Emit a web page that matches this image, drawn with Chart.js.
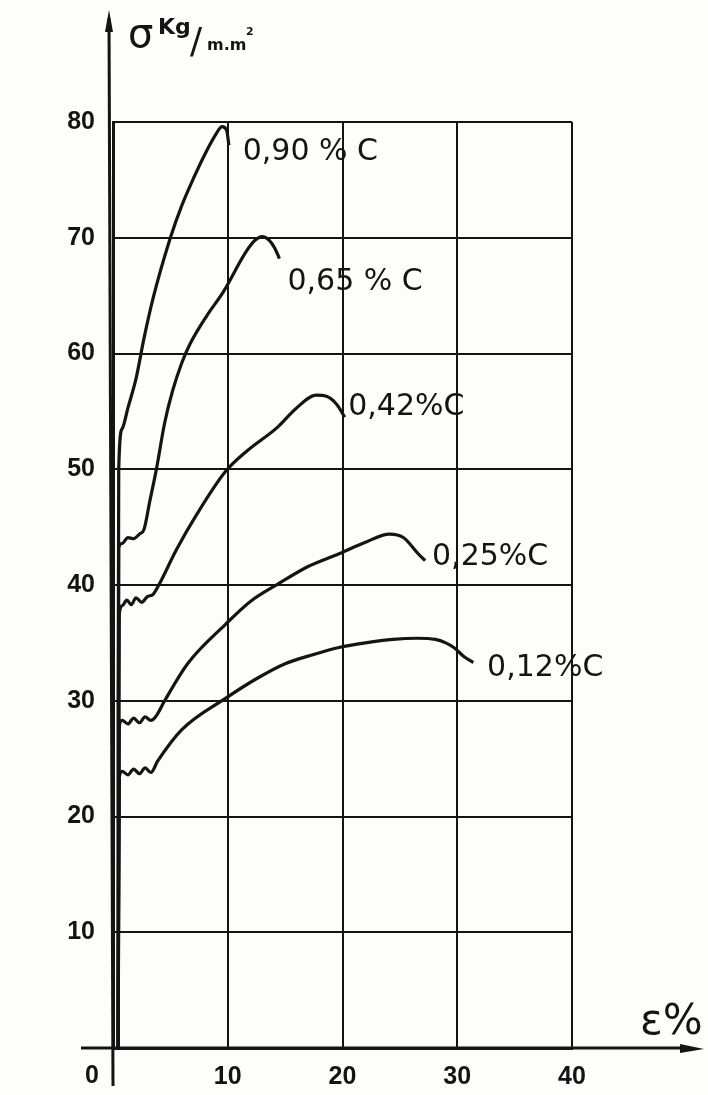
<!DOCTYPE html>
<html>
<head>
<meta charset="utf-8">
<script src="https://cdn.jsdelivr.net/npm/chart.js@4.4.1/dist/chart.umd.min.js"></script>
<style>
  html, body { margin: 0; padding: 0; background: #fff; }
  canvas { display: block; }
</style>
</head>
<body>
<canvas id="chart" width="708" height="1095"></canvas>
<script>
// tick labels
const xTicks = [0, 10, 20, 30, 40];
const yTicks = [10, 20, 30, 40, 50, 60, 70, 80];

// curves: carbon content, strain (%) and stress (kg/mm2)
const curveNames = ['0,90 % C', '0,65 % C', '0,42%C', '0,25%C', '0,12%C'];

const strain090 = [0.45, 0.45, 0.5, 0.8, 1.3, 2.0, 2.7, 3.5, 5.0, 6.0, 7.0, 8.0, 9.0, 9.5, 9.9, 10.1];
const stress090 = [0, 30, 50, 53.5, 55.3, 57.8, 61.3, 64.8, 70, 72.8, 75.1, 77.2, 79, 79.6, 79.3, 78];

const strain065 = [0.45, 0.5, 0.8, 1.3, 1.8, 2.3, 2.7, 3.2, 3.8, 4.5, 5.2, 6.0, 6.7, 8.2, 9.6, 11.6, 12.4, 13.0, 13.6, 14.1, 14.5];
const stress065 = [0, 43.2, 43.6, 44.1, 44.0, 44.4, 44.8, 47.2, 50.1, 54.0, 56.8, 59.2, 60.8, 63.3, 65.3, 68.8, 69.8, 70.1, 69.8, 69.1, 68.2];

const strain042 = [0.45, 0.55, 0.8, 1.2, 1.6, 2.0, 2.5, 3.0, 3.5, 4.1, 5.5, 7.3, 9.8, 11.7, 14.3, 16.0, 17.7, 18.6, 19.5, 20.2];
const stress042 = [0, 37.5, 38.2, 38.7, 38.3, 38.9, 38.5, 39.0, 39.2, 40.2, 43.0, 46.1, 49.8, 51.6, 53.6, 55.3, 56.4, 56.3, 55.6, 54.5];

const strain025 = [0.45, 0.55, 0.8, 1.3, 1.8, 2.3, 2.8, 3.3, 3.7, 4.5, 6.5, 9.8, 12.0, 14.4, 17.0, 19.7, 22.0, 24.1, 25.3, 26.6, 27.2];
const stress025 = [0, 27.8, 28.3, 28.0, 28.5, 28.1, 28.6, 28.3, 28.6, 30.0, 33.2, 36.6, 38.6, 40.1, 41.6, 42.7, 43.7, 44.4, 44.1, 42.7, 42.1];

const strain012 = [0.45, 0.55, 0.8, 1.3, 1.8, 2.3, 2.8, 3.3, 3.9, 6.0, 9.8, 12.5, 15.0, 17.5, 19.7, 22.0, 24.4, 26.5, 28.1, 29.0, 29.7, 30.6, 31.4];
const stress012 = [0, 23.4, 23.9, 23.6, 24.1, 23.7, 24.2, 23.8, 24.8, 27.5, 30.2, 31.9, 33.2, 34.0, 34.6, 35.0, 35.3, 35.4, 35.3, 35.0, 34.6, 33.8, 33.3];

const strains = [strain090, strain065, strain042, strain025, strain012];
const stresses = [stress090, stress065, stress042, stress025, stress012];

function toPoints(xs, ys) {
  return xs.map((x, i) => ({ x: x, y: ys[i] }));
}

const ink = '#141414';

const sketchPlugin = {
  id: 'sketch',
  beforeDraw(chart) {
    const ctx = chart.ctx;
    ctx.save();
    ctx.fillStyle = '#fdfdfc';
    ctx.fillRect(0, 0, chart.width, chart.height);
    ctx.restore();
  },
  afterDraw(chart) {
    const ctx = chart.ctx;
    const xs = chart.scales.x;
    const ys = chart.scales.y;
    const x0 = xs.getPixelForValue(0);
    const y0 = ys.getPixelForValue(0);

    ctx.save();
    ctx.strokeStyle = ink;
    ctx.fillStyle = ink;
    ctx.lineWidth = 3;

    // y axis running up past the grid, with an arrow
    ctx.beginPath();
    ctx.moveTo(x0, y0 + 38);
    ctx.lineTo(x0 - 4, 18);
    ctx.stroke();
    ctx.beginPath();
    ctx.moveTo(x0 - 4, 10);
    ctx.lineTo(x0 - 8, 32);
    ctx.lineTo(x0, 32);
    ctx.closePath();
    ctx.fill();

    // x axis running right, with an arrow
    ctx.beginPath();
    ctx.moveTo(x0 - 32, y0);
    ctx.lineTo(688, y0);
    ctx.stroke();
    ctx.beginPath();
    ctx.moveTo(704, y0 + 1);
    ctx.lineTo(680, y0 - 4);
    ctx.lineTo(680, y0 + 5);
    ctx.closePath();
    ctx.fill();

    // "0" at the origin, left of the axis
    ctx.font = 'bold 25px "Liberation Sans"';
    ctx.textAlign = 'center';
    ctx.textBaseline = 'middle';
    ctx.fillText('0', x0 - 21, y0 + 28);

    // axis titles
    ctx.textAlign = 'left';
    ctx.textBaseline = 'alphabetic';
    ctx.font = '40px "DejaVu Sans"';
    ctx.fillText('σ', 128, 47);
    ctx.font = 'bold 22px "DejaVu Sans"';
    ctx.fillText('Kg', 158, 34);
    ctx.font = '36px "DejaVu Sans"';
    ctx.fillText('/', 190, 53);
    ctx.font = 'bold 16px "DejaVu Sans"';
    ctx.fillText('m.m', 207, 50);
    ctx.font = 'bold 11px "DejaVu Sans"';
    ctx.fillText('2', 246, 35);

    ctx.font = '42px "DejaVu Sans"';
    ctx.fillText('ε%', 640, 1034);

    // curve labels next to the end of each curve
    const spots = [[11.3, 77.4], [15.2, 66.2], [20.5, 55.4], [27.8, 42.4], [32.6, 32.8]];
    ctx.font = '30px "DejaVu Sans"';
    ctx.textBaseline = 'middle';
    curveNames.forEach((name, i) => {
      ctx.fillText(name, xs.getPixelForValue(spots[i][0]), ys.getPixelForValue(spots[i][1]));
    });
    ctx.restore();
  }
};

const ctx = document.getElementById('chart').getContext('2d');
new Chart(ctx, {
  type: 'line',
  data: {
    datasets: curveNames.map((name, i) => ({
      label: name,
      data: toPoints(strains[i], stresses[i]),
      borderColor: ink,
      borderWidth: 3.2,
      pointRadius: 0,
      fill: false,
      cubicInterpolationMode: 'monotone'
    }))
  },
  options: {
    responsive: false,
    animation: false,
    devicePixelRatio: 1,
    layout: { padding: { top: 122, right: 136, bottom: 0, left: 0 } },
    plugins: { legend: { display: false }, tooltip: { enabled: false } },
    scales: {
      x: {
        type: 'linear',
        min: 0,
        max: 40,
        afterBuildTicks: (scale) => { scale.ticks = xTicks.map(v => ({ value: v })); },
        afterFit: (scale) => { scale.height = 47; },
        ticks: {
          padding: 14,
          color: ink,
          font: { family: 'Liberation Sans', size: 25, weight: 'bold' },
          callback: (v) => (v === 0 ? '' : String(v))
        },
        grid: { color: ink, lineWidth: 2, drawTicks: false },
        border: { color: ink, width: 3 }
      },
      y: {
        type: 'linear',
        min: 0,
        max: 80,
        afterBuildTicks: (scale) => { scale.ticks = [0].concat(yTicks).map(v => ({ value: v })); },
        afterFit: (scale) => { scale.width = 113; },
        ticks: {
          padding: 18,
          color: ink,
          font: { family: 'Liberation Sans', size: 25, weight: 'bold' },
          callback: (v) => (v === 0 ? '' : String(v))
        },
        grid: { color: ink, lineWidth: 2, drawTicks: false },
        border: { color: ink, width: 3 }
      }
    }
  },
  plugins: [sketchPlugin]
});
</script>
</body>
</html>
